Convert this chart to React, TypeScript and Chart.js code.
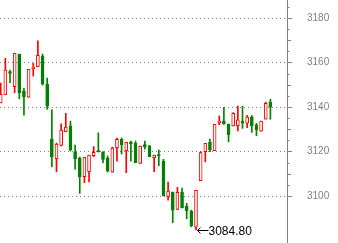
import React, { useEffect, useRef } from "react";
import { Chart, registerables } from "chart.js";

Chart.register(...registerables);

// one entry per trading session (index on the x axis)
const opens = [
  3141.9, 3145.5, 3155.9, 3149.1, 3163.8, 3147.2, 3144.4, 3157.2, 3158.1, 3162.9,
  3150.3, 3125.5, 3116.8, 3122.8, 3128.9, 3131.5, 3119.9, 3117.1, 3108.7, 3110.9,
  3118.1, 3120.4, 3119.8, 3117.1, 3110.7, 3121.7, 3125.5, 3120.4, 3124.3, 3123.7,
  3114.7, 3123.1, 3122.5, 3117.2, 3118.6, 3115.7, 3099.7, 3101.8, 3094.0, 3101.8,
  3095.5, 3093.3, 3086.0, 3106.9, 3119.9, 3124.1, 3120.4, 3132.9, 3133.7, 3132.2,
  3131.5, 3131.6, 3133.7, 3132.7, 3135.6, 3132.0, 3129.2, 3134.6, 3142.2,
];
const highs = [
  3150.8, 3161.9, 3156.6, 3164.1, 3163.8, 3148.4, 3156.9, 3159.6, 3169.7, 3163.8,
  3153.0, 3138.7, 3123.8, 3132.4, 3137.2, 3133.7, 3122.9, 3117.5, 3117.4, 3118.4,
  3122.2, 3128.4, 3120.0, 3118.0, 3122.0, 3126.1, 3126.1, 3124.1, 3124.7, 3124.7,
  3122.5, 3124.7, 3122.8, 3118.4, 3120.7, 3116.5, 3106.3, 3101.8, 3103.9, 3103.6,
  3096.7, 3093.7, 3102.6, 3120.0, 3123.7, 3125.6, 3132.2, 3136.0, 3139.9, 3132.4,
  3137.5, 3140.4, 3140.4, 3136.3, 3136.2, 3132.7, 3133.7, 3142.2, 3143.5,
];
const lows = [
  3141.9, 3145.5, 3150.9, 3146.4, 3143.7, 3136.4, 3144.4, 3153.9, 3158.1, 3149.9,
  3139.0, 3113.2, 3110.9, 3122.5, 3128.9, 3120.2, 3112.1, 3101.2, 3106.0, 3106.4,
  3117.7, 3119.8, 3115.0, 3110.8, 3110.7, 3115.7, 3118.9, 3110.5, 3115.7, 3115.0,
  3114.7, 3121.1, 3117.7, 3110.9, 3113.6, 3100.1, 3098.2, 3088.0, 3094.0, 3094.7,
  3089.8, 3086.2, 3084.8, 3106.9, 3115.4, 3119.9, 3120.4, 3132.0, 3132.2, 3124.4,
  3131.5, 3129.3, 3130.4, 3130.7, 3128.6, 3127.1, 3129.2, 3134.6, 3134.5,
];
const closes = [
  3145.7, 3156.6, 3155.1, 3164.1, 3146.4, 3144.6, 3156.9, 3158.0, 3163.2, 3150.3,
  3140.4, 3117.7, 3123.4, 3129.7, 3131.0, 3120.7, 3116.8, 3108.7, 3117.4, 3118.4,
  3119.6, 3119.8, 3116.5, 3111.2, 3121.6, 3125.5, 3123.1, 3124.1, 3123.5, 3115.0,
  3122.5, 3122.2, 3117.7, 3118.4, 3118.1, 3100.1, 3102.2, 3093.7, 3101.7, 3094.7,
  3093.4, 3086.7, 3102.6, 3119.5, 3123.7, 3120.7, 3132.2, 3133.7, 3132.4, 3127.6,
  3137.2, 3134.2, 3132.8, 3135.5, 3131.6, 3129.8, 3133.7, 3141.7, 3139.9,
];
const yTickValues = [3100, 3120, 3140, 3160, 3180];

const UP = "#ff0000";
const DOWN = "#008000";
const AXIS = "#808080";

export default function App() {
  const ref = useRef<HTMLCanvasElement | null>(null);

  useEffect(() => {
    document.body.style.margin = "0";
    const canvas = ref.current;
    if (!canvas) return;

    const isUp = opens.map((o, i) => closes[i] >= o);
    const bodies = opens.map((o, i) => ({ x: i, y: [Math.min(o, closes[i]), Math.max(o, closes[i])] }));
    const wicks = opens.map((_, i) => ({ x: i, y: [lows[i], highs[i]] }));

    const minorTicks = {
      id: "minorTicks",
      afterDraw(chart: any) {
        const y = chart.scales.y;
        const ctx = chart.ctx;
        ctx.save();
        ctx.strokeStyle = AXIS;
        ctx.lineWidth = 1;
        for (let v = 3100; v <= 3185; v += 5) {
          if (v % 20 === 0) continue;
          const len = v % 10 === 0 ? 3 : 1.5;
          const py = Math.round(y.getPixelForValue(v)) + 0.5;
          ctx.beginPath();
          ctx.moveTo(y.left, py);
          ctx.lineTo(y.left + 1 + len, py);
          ctx.stroke();
        }
        ctx.restore();
      },
    };

    const lowLabel = {
      id: "lowLabel",
      afterDatasetsDraw(chart: any) {
        let idx = 0;
        lows.forEach((l, i) => { if (l < lows[idx]) idx = i; });
        const px = chart.scales.x.getPixelForValue(idx);
        const py = chart.scales.y.getPixelForValue(lows[idx]);
        const ctx = chart.ctx;
        ctx.save();
        ctx.strokeStyle = "#000";
        ctx.lineWidth = 1;
        const ax = Math.round(px) + 1.5;
        const ay = Math.round(py) + 0.5;
        ctx.beginPath();
        ctx.moveTo(ax, ay);
        ctx.lineTo(ax + 11, ay);
        ctx.moveTo(ax, ay);
        ctx.lineTo(ax + 3, ay - 3);
        ctx.moveTo(ax, ay);
        ctx.lineTo(ax + 3, ay + 3);
        ctx.stroke();
        ctx.fillStyle = "#000";
        ctx.font = "12px 'Liberation Sans', Arial, sans-serif";
        ctx.textBaseline = "middle";
        ctx.fillText(lows[idx].toFixed(2), ax + 11, ay + 1);
        ctx.restore();
      },
    };

    const chart = new Chart(canvas, {
      type: "bar",
      data: {
        datasets: [
          {
            label: "wick",
            data: wicks as any,
            backgroundColor: isUp.map((u) => (u ? UP : DOWN)),
            borderWidth: 0,
            barThickness: 1,
            grouped: false,
            order: 2,
          },
          {
            label: "body",
            data: bodies as any,
            backgroundColor: isUp.map((u) => (u ? "#ffffff" : DOWN)),
            borderColor: isUp.map((u) => (u ? UP : DOWN)),
            borderWidth: 1,
            borderSkipped: false,
            barThickness: 3,
            grouped: false,
            order: 1,
          },
        ],
      },
      options: {
        animation: false,
        responsive: false,
        events: [],
        layout: { padding: 0 },
        plugins: { legend: { display: false }, tooltip: { enabled: false } },
        scales: {
          x: {
            type: "linear",
            min: -0.15,
            max: 61.57,
            offset: false,
            display: false,
          },
          y: {
            position: "right",
            min: 3078.9,
            max: 3188.1,
            afterBuildTicks: (s: any) => {
              s.ticks = yTickValues.map((v) => ({ value: v }));
            },
            afterFit: (s: any) => {
              s.width = 51;
              s.paddingTop = 0;
              s.paddingBottom = 0;
            },
            ticks: {
              color: AXIS,
              padding: 15,
              callback: (v: any) => String(v),
              font: { family: "'Liberation Sans', Arial, sans-serif", size: 10 },
            },
            grid: {
              color: "#808080",
              tickBorderDash: [],
              tickColor: AXIS,
              tickLength: 5,
              drawTicks: true,
            },
            border: { display: true, color: AXIS, width: 1, dash: [1, 3] },
          } as any,
        },
      },
      plugins: [minorTicks, lowLabel],
    });

    return () => chart.destroy();
  }, []);

  return (
    <div style={{ width: 338, height: 243 }}>
      <canvas ref={ref} width={338} height={243} style={{ display: "block" }} />
    </div>
  );
}
